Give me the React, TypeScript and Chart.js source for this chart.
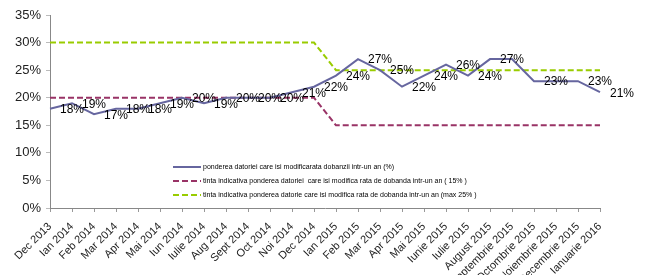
import React, { useEffect, useRef } from "react";
import { Chart, registerables } from "chart.js";

Chart.register(...registerables);

const categories = [
  "Dec 2013", "Ian 2014", "Feb 2014", "Mar 2014", "Apr 2014", "Mai 2014", "Iun 2014",
  "Iulie 2014", "Aug 2014", "Sept 2014", "Oct 2014", "Noi 2014", "Dec 2014",
  "Ian 2015", "Feb 2015", "Mar 2015", "Apr 2015", "Mai 2015", "Iunie 2015",
  "Iulie 2015", "August 2015", "Septembrie 2015", "Octombrie 2015",
  "Noiembrie 2015", "Decembrie 2015", "Ianuarie 2016",
];

const shareValues = [18, 19, 17, 18, 18, 19, 20, 19, 20, 20, 20, 21, 22, 24, 27, 25, 22, 24, 26, 24, 27, 27, 23, 23, 23, 21];

const shareLabels: (string | null)[] = [
  "18%", "19%", "17%", "18%", "18%", "19%", "20%", "19%", "20%", "20%", "20%", "21%", "22%",
  "24%", "27%", "25%", "22%", "24%", "26%", "24%", "27%", null, "23%", null, "23%", "21%",
];

const target15Values = [20, 20, 20, 20, 20, 20, 20, 20, 20, 20, 20, 20, 20, 15, 15, 15, 15, 15, 15, 15, 15, 15, 15, 15, 15, 15];
const targetMax25Values = [30, 30, 30, 30, 30, 30, 30, 30, 30, 30, 30, 30, 30, 25, 25, 25, 25, 25, 25, 25, 25, 25, 25, 25, 25, 25];

const yTicks = [0, 5, 10, 15, 20, 25, 30, 35];

const seriesNames = [
  "ponderea datoriei care isi modificarata dobanzii intr-un an (%)",
  "tinta indicativa ponderea datoriei  care isi modifica rata de dobanda intr-un an ( 15% )",
  "tinta indicativa ponderea datorie care isi modifica rata de dobanda intr-un an (max 25% )",
];

const FONT = "Arial, 'Liberation Sans', sans-serif";

const dataLabelPlugin = {
  id: "pointLabels",
  afterDatasetsDraw(chart: any) {
    const meta = chart.getDatasetMeta(0);
    const ctx = chart.ctx;
    ctx.save();
    ctx.font = `12px ${FONT}`;
    ctx.fillStyle = "#000";
    ctx.textAlign = "left";
    ctx.textBaseline = "middle";
    meta.data.forEach((pt: any, i: number) => {
      const t = shareLabels[i];
      if (t) ctx.fillText(t, pt.x + 10, pt.y + 1);
    });
    ctx.restore();
  },
};

const innerLegendPlugin = {
  id: "innerLegend",
  afterDraw(chart: any) {
    const ctx = chart.ctx;
    const area = chart.chartArea;
    const x0 = area.left + 123;
    const y0 = area.top + 152;
    ctx.save();
    ctx.font = `7px ${FONT}`;
    ctx.textAlign = "left";
    ctx.textBaseline = "middle";
    chart.data.datasets.forEach((ds: any, i: number) => {
      const y = y0 + i * 14;
      ctx.strokeStyle = ds.borderColor;
      ctx.lineWidth = 2;
      ctx.setLineDash(ds.borderDash || []);
      ctx.beginPath();
      ctx.moveTo(x0, y);
      ctx.lineTo(x0 + 28, y);
      ctx.stroke();
      ctx.setLineDash([]);
      ctx.fillStyle = "#000";
      ctx.fillText(ds.label, x0 + 30, y + 0.5);
    });
    ctx.restore();
  },
};

export default function App() {
  const ref = useRef<HTMLCanvasElement | null>(null);

  useEffect(() => {
    if (!ref.current) return;
    const chart = new Chart(ref.current, {
      type: "line",
      data: {
        labels: categories,
        datasets: [
          {
            label: seriesNames[0],
            data: shareValues,
            borderColor: "#66669f",
            borderWidth: 2,
            pointRadius: 0,
            tension: 0,
          },
          {
            label: seriesNames[1],
            data: target15Values,
            borderColor: "#993366",
            borderWidth: 2,
            borderDash: [6, 3],
            pointRadius: 0,
            tension: 0,
          },
          {
            label: seriesNames[2],
            data: targetMax25Values,
            borderColor: "#99cc00",
            borderWidth: 2,
            borderDash: [6, 3],
            pointRadius: 0,
            tension: 0,
          },
        ],
      },
      options: {
        responsive: false,
        animation: false,
        layout: { padding: { top: 15, right: 49, left: 0, bottom: 0 } },
        plugins: {
          legend: { display: false },
          tooltip: { enabled: false },
        },
        scales: {
          x: {
            offset: false,
            grid: {
              display: true,
              drawOnChartArea: false,
              drawTicks: true,
              tickLength: 4,
              color: "#999",
            },
            border: { display: true, color: "#888", width: 1 },
            ticks: {
              autoSkip: false,
              minRotation: 45,
              maxRotation: 45,
              padding: 8,
              color: "#222",
              font: { family: FONT, size: 11 },
            },
            afterFit(scale: any) {
              scale.height = 67;
            },
          },
          y: {
            min: 0,
            max: 35,
            afterBuildTicks(scale: any) {
              scale.ticks = yTicks.map((v) => ({ value: v }));
            },
            grid: {
              display: true,
              drawOnChartArea: false,
              drawTicks: true,
              tickLength: 4,
              color: "#bbb",
            },
            border: { display: true, color: "#888", width: 1 },
            ticks: {
              padding: 5,
              color: "#222",
              font: { family: FONT, size: 13 },
              callback: (v: any) => `${v}%`,
            },
            afterFit(scale: any) {
              scale.width = 50;
            },
          },
        },
      },
      plugins: [dataLabelPlugin, innerLegendPlugin],
    });
    return () => chart.destroy();
  }, []);

  return (
    <div style={{ position: "fixed", left: 0, top: 0, width: 649, height: 275, background: "#fff" }}>
      <canvas ref={ref} width={649} height={275} style={{ display: "block" }} />
    </div>
  );
}
